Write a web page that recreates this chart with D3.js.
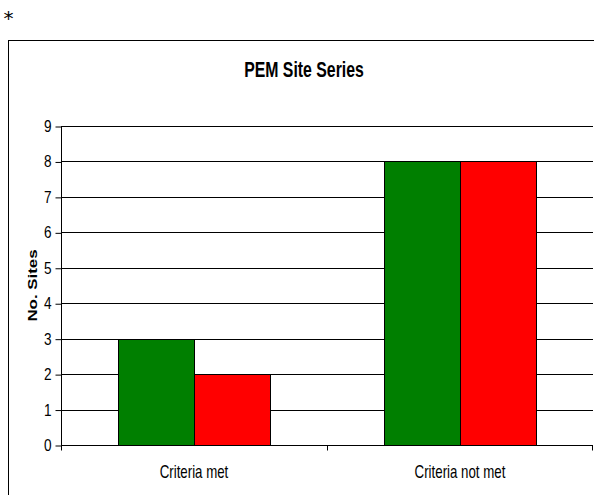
<!DOCTYPE html>
<html>
<head>
<meta charset="utf-8">
<script src="https://cdn.jsdelivr.net/npm/d3@7"></script>
<style>
  html, body { margin: 0; padding: 0; background: #fff; overflow: hidden; }
  svg { display: block; }
  text { font-family: "Liberation Sans", Arial, sans-serif; fill: #000; }
</style>
</head>
<body>
<svg id="chart" width="594" height="495"></svg>
<script>
// Chart data
const categories = ["Criteria met", "Criteria not met"];
const seriesNames = ["Series A", "Series B"];
const seriesColors = ["#007f00", "#ff0000"];
const seriesValues = [
  [3, 8],   // green
  [2, 8]    // red
];
const yTicks = [0, 1, 2, 3, 4, 5, 6, 7, 8, 9];
const chartTitle = "PEM Site Series";
const yAxisTitle = "No. Sites";

const svg = d3.select("#chart");

// Narrow text: draw at (x, y) with horizontal compression k
function narrowText(sel, x, y, k) {
  return sel.attr("transform", `translate(${x},${y}) scale(${k},1)`);
}

// Frame around the chart (runs off the right and bottom edges)
svg.append("rect")
  .attr("x", 8.5).attr("y", 40.5)
  .attr("width", 620).attr("height", 500)
  .attr("fill", "none").attr("stroke", "#000").attr("stroke-width", 1);

// Marker in the top-left corner
svg.append("text")
  .attr("x", 8.5).attr("y", 25)
  .attr("text-anchor", "middle")
  .style("font-family", "DejaVu Sans, sans-serif")
  .style("font-size", "20px")
  .text("*");

const plot = { left: 61, top: 126, right: 593, bottom: 445 };

const x = d3.scaleBand()
  .domain(categories)
  .range([plot.left, plot.right]);

const y = d3.scaleLinear()
  .domain([0, 9])
  .range([plot.bottom, plot.top]);

// Gap width: group occupies band / 1.75
const groupW = x.bandwidth() / 1.75;
const xs = d3.scaleBand()
  .domain(d3.range(seriesNames.length))
  .range([0, groupW]);

// Horizontal gridlines
svg.append("g")
  .selectAll("line")
  .data(yTicks.filter(d => d > 0))
  .join("line")
  .attr("x1", plot.left).attr("x2", plot.right)
  .attr("y1", d => Math.round(y(d)) + 0.5)
  .attr("y2", d => Math.round(y(d)) + 0.5)
  .attr("stroke", "#000").attr("stroke-width", 1);

// Bars
const groups = svg.append("g")
  .selectAll("g")
  .data(categories)
  .join("g")
  .attr("transform", (c) => `translate(${x(c) + (x.bandwidth() - groupW) / 2},0)`);

groups.selectAll("rect")
  .data((c, ci) => seriesValues.map((vals, si) => ({ si, v: vals[ci] })))
  .join("rect")
  .attr("x", d => Math.round(xs(d.si)) + 0.5)
  .attr("y", d => Math.round(y(d.v)) + 0.5)
  .attr("width", xs.bandwidth())
  .attr("height", d => Math.round(y(0)) - Math.round(y(d.v)))
  .attr("fill", d => seriesColors[d.si])
  .attr("stroke", "#000").attr("stroke-width", 1);

// Y axis (line and ticks from d3.axisLeft, labels drawn narrow)
const yAxis = svg.append("g")
  .attr("transform", `translate(${plot.left + 0.5},0.5)`)
  .call(d3.axisLeft(y).tickValues(yTicks).tickSize(6).tickFormat(""));
yAxis.selectAll("path, line").attr("stroke", "#000");
yAxis.select("path").attr("d", `M0,${plot.top}V${plot.bottom}`);

svg.append("g")
  .selectAll("text")
  .data(yTicks)
  .join("text")
  .attr("text-anchor", "end")
  .style("font-size", "17px")
  .each(function (d) {
    narrowText(d3.select(this), 51.5, y(d) + 6, 0.8);
  })
  .text(d => d);

// X axis with ticks at band boundaries
const xAxisG = svg.append("g")
  .attr("transform", `translate(0,${plot.bottom + 0.5})`);
xAxisG.append("line")
  .attr("x1", plot.left).attr("x2", plot.right)
  .attr("stroke", "#000");
const bounds = categories.map(c => x(c)).concat([x(categories[categories.length - 1]) + x.bandwidth()]);
xAxisG.selectAll(".tk")
  .data(bounds)
  .join("line")
  .attr("class", "tk")
  .attr("x1", d => Math.min(Math.round(d) + 0.5, 592.5)).attr("x2", d => Math.min(Math.round(d) + 0.5, 592.5))
  .attr("y1", 0).attr("y2", 5)
  .attr("stroke", "#000");

svg.append("g")
  .selectAll("text")
  .data(categories)
  .join("text")
  .attr("text-anchor", "middle")
  .style("font-size", "19px")
  .each(function (c) {
    narrowText(d3.select(this), x(c) + x.bandwidth() / 2, 477.5, 0.7);
  })
  .text(c => c);

// Chart title
narrowText(svg.append("text"), 304, 77, 0.72)
  .attr("text-anchor", "middle")
  .style("font-size", "22px")
  .style("font-weight", "bold")
  .text(chartTitle);

// Y axis title (rotated; stretched along its length)
svg.append("text")
  .attr("transform", `translate(36.5,${(plot.top + plot.bottom) / 2}) rotate(-90) scale(1.25,1)`)
  .attr("text-anchor", "middle")
  .style("font-size", "13.5px")
  .style("font-weight", "bold")
  .text(yAxisTitle);
</script>
</body>
</html>
